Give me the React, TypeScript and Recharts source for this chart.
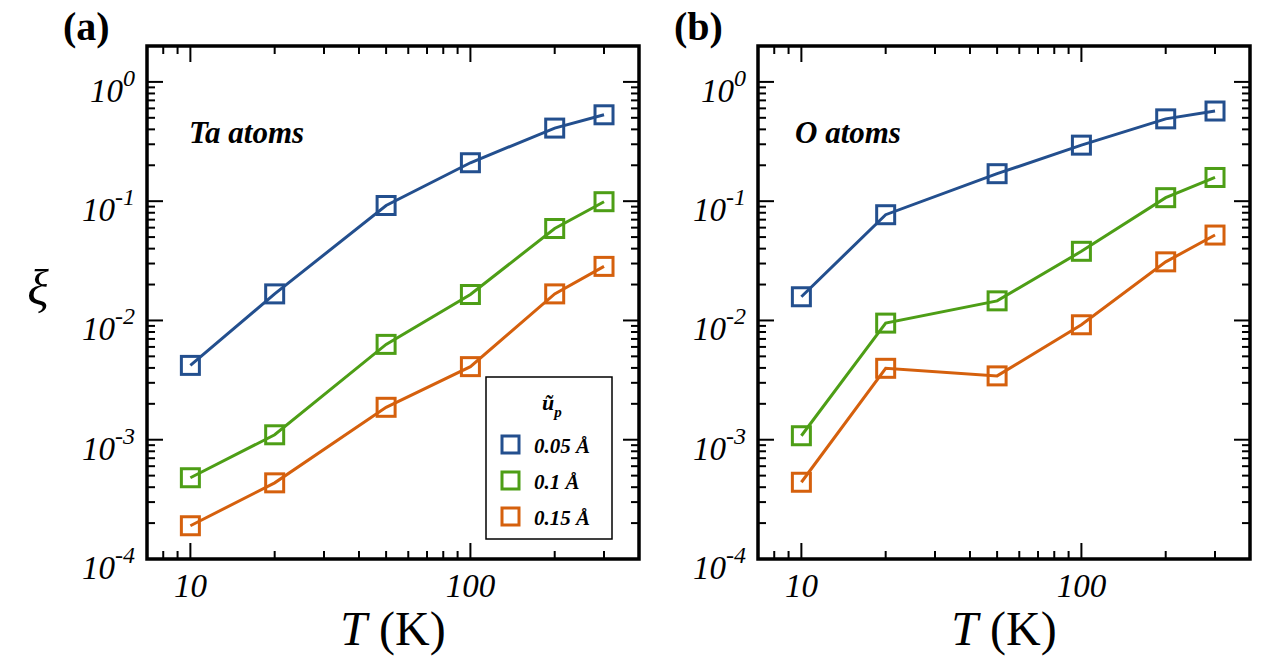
import React from "react";
import { LineChart, Line, XAxis, YAxis } from "recharts";

const temps = [10, 20, 50, 100, 200, 300];
const taU005 = [4.2e-3, 0.0167, 0.092, 0.21, 0.41, 0.53];
const taU01 = [4.8e-4, 1.1e-3, 6.3e-3, 0.0165, 0.059, 0.099];
const taU015 = [1.9e-4, 4.35e-4, 1.87e-3, 4.1e-3, 0.0167, 0.0284];
const oU005 = [0.0158, 0.077, 0.17, 0.295, 0.49, 0.57];
const oU01 = [1.08e-3, 9.5e-3, 0.0146, 0.038, 0.107, 0.158];
const oU015 = [4.4e-4, 3.97e-3, 3.43e-3, 9.2e-3, 0.031, 0.052];
const seriesNames = ["0.05 Å", "0.1 Å", "0.15 Å"];
const colors = ["#234f8e", "#4d9e16", "#d5600d"];

const xMajor = [10, 100];
const xTicks = [8, 9, 10, 20, 30, 40, 50, 60, 70, 80, 90, 100, 200, 300, 400];
const yMajor = [1e-4, 1e-3, 1e-2, 1e-1, 1];
const yTicks: number[] = [];
[1e-4, 1e-3, 1e-2, 1e-1, 1].forEach((d) => {
  for (let m = 1; m <= 9; m++) {
    const v = d * m;
    if (v <= 2.0001) yTicks.push(Number(v.toPrecision(3)));
  }
});

const FONT = "Times New Roman, Liberation Serif, serif";
const H = 657;
const TOP = 46;
const BOTTOM = 98;

const isMajor = (v: number, list: number[]) => list.some((m) => Math.abs(m - v) / m < 1e-6);

function Square(props: any) {
  const { cx, cy, stroke } = props;
  if (cx == null || cy == null) return null;
  return <rect x={cx - 9} y={cy - 9} width={18} height={18} fill="none" stroke={stroke} strokeWidth={3} />;
}

function Panel({ width, left, right, data, label, atoms, atomsX, legend }: any) {
  const rows = temps.map((t, i) => ({ t, a: data[0][i], b: data[1][i], c: data[2][i] }));
  const plotBottom = H - BOTTOM;
  const plotRight = width - right;
  const leftTick = (p: any) => {
    const v = p.payload.value;
    const maj = isMajor(v, yMajor);
    const len = maj ? 16 : 8;
    const exp = Math.round(Math.log10(v));
    return (
      <g>
        <path d={`M${left},${p.y}h${len}`} stroke="#000" strokeWidth={2} fill="none" />
        <path d={`M${plotRight},${p.y}h${-len}`} stroke="#000" strokeWidth={2} fill="none" />
        {maj && (
          <text x={left - 12} y={p.y + 20} textAnchor="end" fontFamily={FONT} fontStyle="italic" style={{ fontSize: 33 }} fill="#000">
            10<tspan dy={-16} style={{ fontSize: 24 }}>{exp}</tspan>
          </text>
        )}
      </g>
    );
  };
  const bottomTick = (p: any) => {
    const v = p.payload.value;
    const maj = isMajor(v, xMajor);
    const len = maj ? 16 : 8;
    return (
      <g>
        <path d={`M${p.x},${plotBottom}v${-len}`} stroke="#000" strokeWidth={2} fill="none" />
        <path d={`M${p.x},${TOP}v${len}`} stroke="#000" strokeWidth={2} fill="none" />
        {maj && (
          <text x={p.x} y={plotBottom + 38} textAnchor="middle" fontFamily={FONT} fontStyle="italic" style={{ fontSize: 33 }} fill="#000">
            {v}
          </text>
        )}
      </g>
    );
  };
  return (
    <div style={{ position: "relative", width, height: H }}>
      <LineChart width={width} height={H} data={rows} margin={{ top: TOP, right, bottom: 0, left: 0 }}>
        <XAxis dataKey="t" type="number" scale="log" domain={[7, 400]} ticks={xTicks} tick={bottomTick} tickLine={false} axisLine={false} height={BOTTOM} allowDataOverflow interval={0} />
        <YAxis type="number" scale="log" domain={[1e-4, 2]} ticks={yTicks} tick={leftTick} tickLine={false} axisLine={false} width={left} allowDataOverflow interval={0} />
        {["a", "b", "c"].map((k, i) => (
          <Line key={k} dataKey={k} stroke={colors[i]} strokeWidth={3} dot={<Square stroke={colors[i]} />} isAnimationActive={false} name={seriesNames[i]} />
        ))}
      </LineChart>
      <svg width={width} height={H} style={{ position: "absolute", left: 0, top: 0, pointerEvents: "none" }}>
        <rect x={left} y={TOP} width={plotRight - left} height={plotBottom - TOP} fill="none" stroke="#000" strokeWidth={3.5} />
        <text x={left - 84} y={40} fontFamily={FONT} fontWeight="bold" fontSize={40}>{label}</text>
        <text x={atomsX} y={143} fontFamily={FONT} fontWeight="bold" fontStyle="italic" fontSize={31}>{atoms}</text>
        <text x={(left + plotRight) / 2} y={645} textAnchor="middle" fontFamily={FONT} fontSize={48}>
          <tspan fontStyle="italic">T</tspan> (K)
        </text>
        {legend && (
          <g>
            <rect x={486} y={377} width={126} height={162} fill="#fff" stroke="#000" strokeWidth={1.5} />
            <text x={542} y={410} fontFamily={FONT} fontWeight="bold" fontStyle="italic" fontSize={22}>
              ũ<tspan dy={7} fontSize={15}>p</tspan>
            </text>
            {seriesNames.map((n, i) => (
              <g key={n}>
                <rect x={502} y={436 + i * 36} width={17} height={17} fill="none" stroke={colors[i]} strokeWidth={3} />
                <text x={534} y={453 + i * 36} fontFamily={FONT} fontWeight="bold" fontStyle="italic" fontSize={21}>{n}</text>
              </g>
            ))}
          </g>
        )}
        {legend && (
          <text x={38} y={305} textAnchor="middle" fontFamily={FONT} fontStyle="italic" fontSize={50}>ξ</text>
        )}
      </svg>
    </div>
  );
}

export default function App() {
  return (
    <div style={{ position: "absolute", left: 0, top: 0, width: 1263, height: H, background: "#fff", overflow: "hidden" }}>
      <div style={{ position: "absolute", left: 0, top: 0 }}>
        <Panel width={660} left={147} right={21} data={[taU005, taU01, taU015]} label="(a)" atoms="Ta atoms" atomsX={189} legend />
      </div>
      <div style={{ position: "absolute", left: 640, top: 0 }}>
        <Panel width={623} left={118} right={13} data={[oU005, oU01, oU015]} label="(b)" atoms="O atoms" atomsX={155} legend={false} />
      </div>
    </div>
  );
}
